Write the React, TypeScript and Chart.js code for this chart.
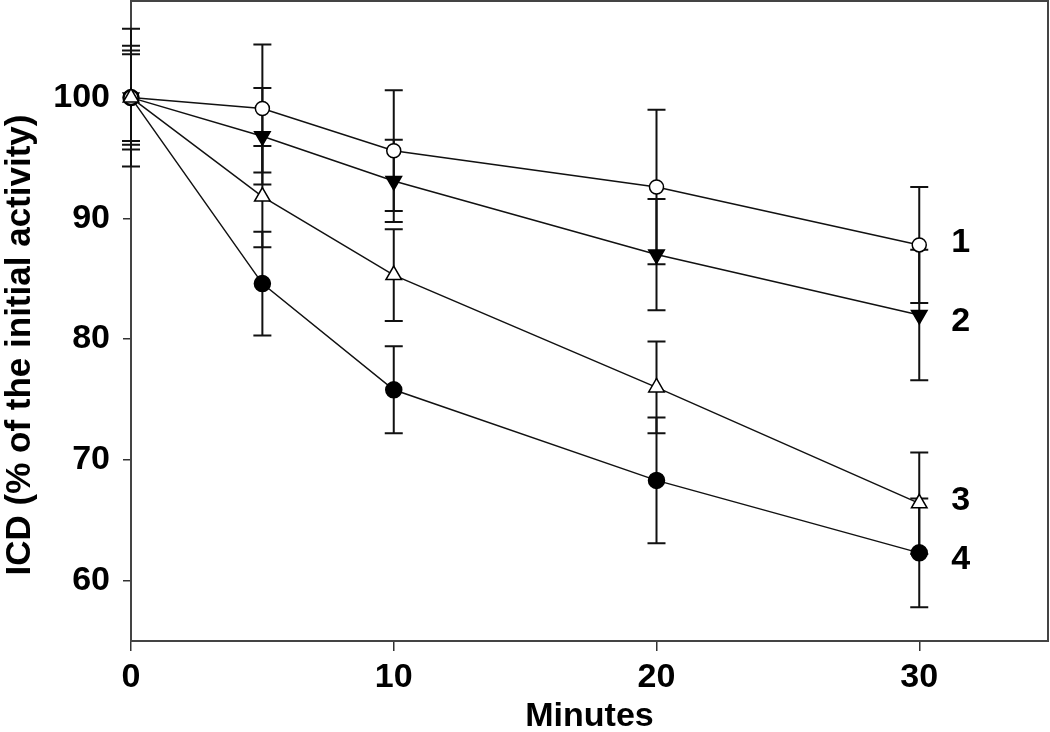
import React, { useEffect, useRef } from "react";
import { Chart, registerables } from "chart.js";

Chart.register(...registerables);

const minutes = [0, 5, 10, 20, 30];
const xTicks = [0, 10, 20, 30];
const yTicks = [60, 70, 80, 90, 100];

const series1 = [100, 99.1, 95.6, 92.6, 87.8];
const errors1 = [5.7, 5.3, 5.0, 6.4, 4.8];
const series2 = [100, 96.8, 93.1, 87.0, 82.0];
const errors2 = [3.6, 4.0, 3.4, 4.6, 5.4];
const series3 = [100, 91.8, 85.3, 76.0, 66.4];
const errors3 = [3.9, 4.2, 3.8, 3.8, 4.2];
const series4 = [100, 84.6, 75.8, 68.3, 62.3];
const errors4 = [4.3, 4.3, 3.6, 5.2, 4.5];
const seriesNames = ["1", "2", "3", "4"];

const FONT = "'Liberation Sans', Arial, sans-serif";
const LABEL_DY = [-2, 7, -3, 7];

const framePlugin = {
  id: "frameAndErrors",
  beforeDatasetsDraw(chart: any) {
    const { ctx, chartArea, scales } = chart;
    const x = scales.x;
    const y = scales.y;
    ctx.save();
    ctx.strokeStyle = "#444";
    ctx.lineWidth = 2;
    ctx.strokeRect(chartArea.left, chartArea.top, chartArea.right - chartArea.left, chartArea.bottom - chartArea.top);
    ctx.strokeStyle = "#111";
    ctx.lineWidth = 2;
    chart.data.datasets.forEach((ds: any) => {
      ds.data.forEach((pt: any, i: number) => {
        const e = ds.errors[i];
        const px = x.getPixelForValue(pt.x);
        const top = y.getPixelForValue(pt.y + e);
        const bot = y.getPixelForValue(pt.y - e);
        ctx.beginPath();
        ctx.moveTo(px, top);
        ctx.lineTo(px, bot);
        ctx.moveTo(px - 9, top);
        ctx.lineTo(px + 9, top);
        ctx.moveTo(px - 9, bot);
        ctx.lineTo(px + 9, bot);
        ctx.stroke();
      });
    });
    ctx.restore();
  },
  afterDraw(chart: any) {
    const { ctx, chartArea } = chart;
    ctx.save();
    ctx.fillStyle = "#000";
    ctx.font = `bold 34px ${FONT}`;
    ctx.textAlign = "left";
    ctx.textBaseline = "middle";
    chart.data.datasets.forEach((ds: any, i: number) => {
      const meta = chart.getDatasetMeta(i);
      const last = meta.data[meta.data.length - 1];
      ctx.fillText(ds.label, last.x + 32, last.y + LABEL_DY[i]);
    });
    ctx.textAlign = "center";
    ctx.fillText("Minutes", (chartArea.left + chartArea.right) / 2, 717);
    ctx.translate(20, 345);
    ctx.rotate(-Math.PI / 2);
    ctx.font = `bold 35px ${FONT}`;
    ctx.fillText("ICD (% of the initial activity)", 0, 0);
    ctx.restore();
  },
};

function toPoints(vals: number[]) {
  return vals.map((v, i) => ({ x: minutes[i], y: v }));
}

export default function App() {
  const ref = useRef<HTMLCanvasElement | null>(null);
  useEffect(() => {
    document.body.style.margin = "0";
    document.body.style.background = "#fff";
    const canvas = ref.current!;
    const base = {
      borderColor: "#111",
      borderWidth: 1.5,
      pointBorderColor: "#000",
      pointBorderWidth: 1.5,
      showLine: true,
      clip: false as any,
      tension: 0,
    };
    const chart = new Chart(canvas, {
      type: "scatter",
      data: {
        datasets: [
          {
            ...base,
            label: seriesNames[0],
            data: toPoints(series1),
            errors: errors1,
            pointStyle: "circle",
            pointRadius: 7,
            pointBackgroundColor: "#fff",
            order: 1,
          } as any,
          {
            ...base,
            label: seriesNames[1],
            data: toPoints(series2),
            errors: errors2,
            pointStyle: "triangle",
            pointRotation: 180,
            pointRadius: 9,
            pointBackgroundColor: "#000",
            order: 2,
          } as any,
          {
            ...base,
            label: seriesNames[2],
            data: toPoints(series3),
            errors: errors3,
            pointStyle: "triangle",
            pointRadius: 9,
            pointBackgroundColor: "#fff",
            order: 0,
          } as any,
          {
            ...base,
            label: seriesNames[3],
            data: toPoints(series4),
            errors: errors4,
            pointStyle: "circle",
            pointRadius: 8,
            pointBackgroundColor: "#000",
            order: 3,
          } as any,
        ],
      },
      options: {
        responsive: false,
        animation: false,
        layout: { autoPadding: false, padding: { top: 1, right: 2, left: 0, bottom: 0 } },
        plugins: { legend: { display: false }, tooltip: { enabled: false } },
        scales: {
          x: {
            type: "linear",
            min: 0,
            max: 34.9,
            afterBuildTicks: (s: any) => {
              s.ticks = xTicks.map((v) => ({ value: v }));
            },
            afterFit: (s: any) => {
              s.height = 91;
              s.paddingLeft = 0;
              s.paddingRight = 0;
            },
            grid: { drawOnChartArea: false, drawTicks: true, tickLength: 10, color: "#333", lineWidth: 1.5 },
            border: { display: true, color: "#444", width: 2 },
            ticks: {
              color: "#000",
              padding: 6,
              maxRotation: 0,
              font: { family: FONT, size: 34, weight: "bold" },
            },
          },
          y: {
            type: "linear",
            min: 55,
            max: 108,
            afterBuildTicks: (s: any) => {
              s.ticks = yTicks.map((v) => ({ value: v }));
            },
            afterFit: (s: any) => {
              s.width = 131;
              s.paddingTop = 0;
              s.paddingBottom = 0;
            },
            grid: { drawOnChartArea: false, drawTicks: true, tickLength: 8, color: "#333", lineWidth: 1.5 },
            border: { display: true, color: "#444", width: 2 },
            ticks: {
              color: "#000",
              padding: 13,
              font: { family: FONT, size: 34, weight: "bold" },
            },
          },
        },
      } as any,
      plugins: [framePlugin],
    });
    return () => chart.destroy();
  }, []);
  return <canvas ref={ref} width={1050} height={732} style={{ display: "block" }} />;
}
